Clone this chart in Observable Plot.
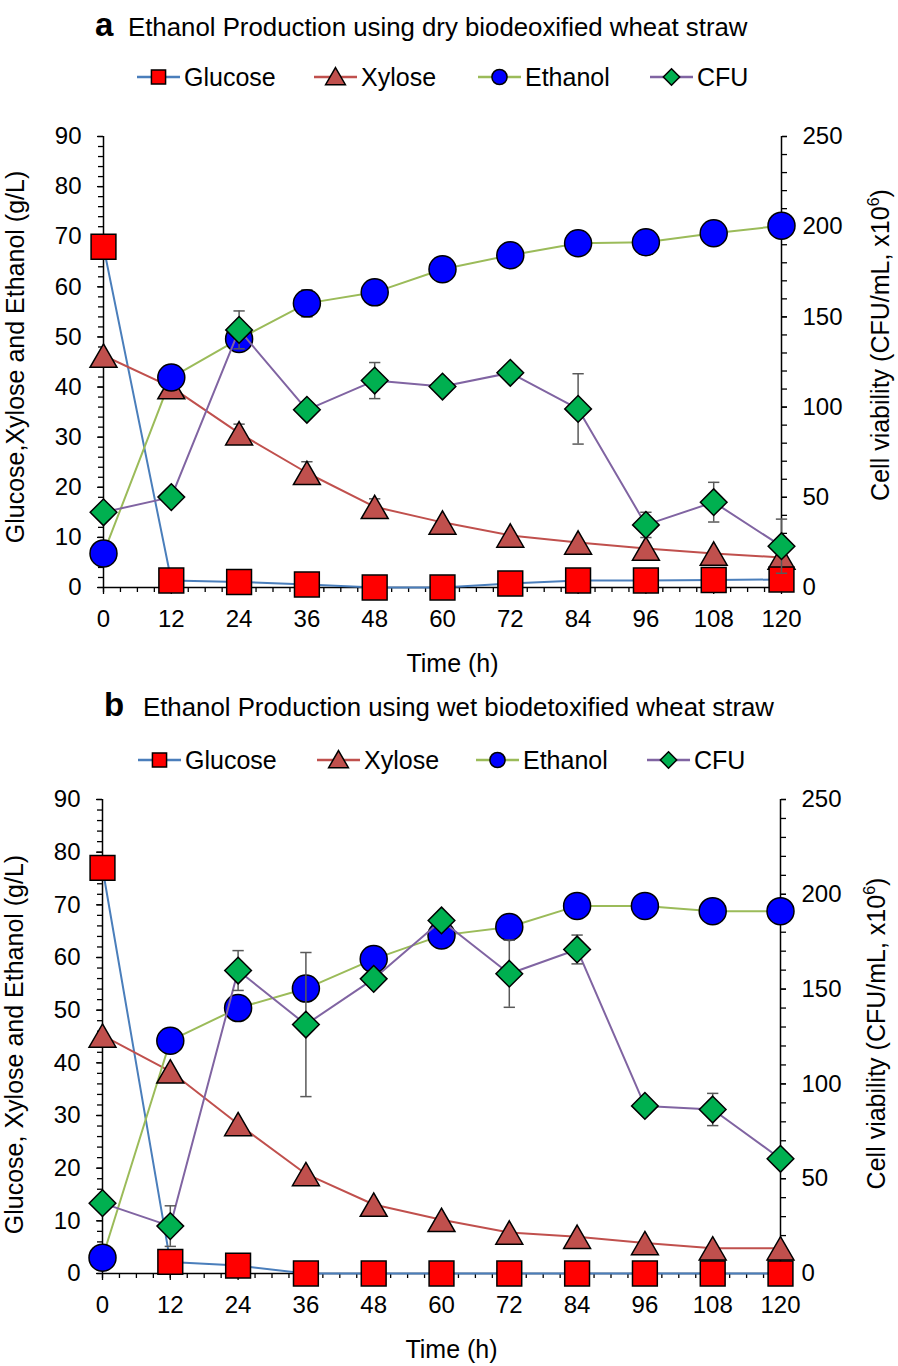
<!DOCTYPE html>
<html><head><meta charset="utf-8">
<script src="https://cdn.jsdelivr.net/npm/d3@7"></script>
<script src="https://cdn.jsdelivr.net/npm/@observablehq/plot@0.6"></script>
<style>
body{margin:0;background:#fff;}
#page{position:relative;width:898px;height:1366px;background:#fff;font-family:"Liberation Sans",Arial,sans-serif;overflow:hidden;}
#page > svg{position:absolute;left:0;}
</style></head><body><div id="page"></div>
<script>
// ---- data ----
const hours = [0, 12, 24, 36, 48, 60, 72, 84, 96, 108, 120];
const xTicks = [0, 12, 24, 36, 48, 60, 72, 84, 96, 108, 120];
const leftTicks = [0, 10, 20, 30, 40, 50, 60, 70, 80, 90];
const rightTicks = [0, 50, 100, 150, 200, 250];
const seriesNames = ["Glucose", "Xylose", "Ethanol", "CFU"];

// Panel a: dry biodeoxified wheat straw
const glucoseA = [68.0, 1.4, 1.1, 0.6, 0.0, 0.0, 0.8, 1.4, 1.4, 1.5, 1.6];
const xyloseA  = [46.3, 40.0, 30.8, 22.9, 16.1, 13.0, 10.4, 9.0, 7.8, 6.8, 6.0];
const xyloseErrA = [0, 0, 1.8, 2.2, 1.6, 0, 0, 0, 0, 0, 0];
const ethanolA = [6.8, 41.9, 49.6, 56.7, 58.9, 63.5, 66.3, 68.7, 68.9, 70.7, 72.2];
const ethanolErrA = [0, 0, 0, 2.7, 0, 0, 0, 0, 0, 0, 0];
const cfuA     = [41.7, 50.1, 142.8, 98.5, 114.7, 111.4, 119.0, 99.0, 34.7, 47.3, 22.9];
const cfuErrA  = [0, 0, 10.5, 0, 10, 0, 0, 19.5, 7, 11, 15];

// Panel b: wet biodetoxified wheat straw
const glucoseB = [77.0, 2.2, 1.5, 0, 0, 0, 0, 0, 0, 0, 0];
const xyloseB  = [45.2, 38.4, 28.4, 18.9, 13.1, 10.2, 7.8, 7.0, 5.8, 4.8, 4.8];
const xyloseErrB = [0, 0, 0, 0, 0, 0, 0, 0, 0, 0, 0];
const ethanolB = [3.0, 44.2, 50.4, 54.1, 59.7, 64.2, 65.8, 69.8, 69.8, 68.8, 68.8];
const ethanolErrB = [0, 0, 0, 0, 0, 0, 0, 0, 0, 0, 0];
const cfuB     = [37.1, 25.0, 159.8, 131.3, 155.4, 186.2, 158.1, 170.9, 88.4, 86.5, 60.5];
const cfuErrB  = [0, 10.7, 10.5, 38, 0, 0, 17.7, 7.6, 0, 8.5, 0];

// ---- styling ----
const FONT = "'Liberation Sans', Arial, sans-serif";
const colors = {
  Glucose: {line: "#4A7EBB", fill: "#FF0000", symbol: "square"},
  Xylose:  {line: "#C0504D", fill: "#C0504D", symbol: "triangle"},
  Ethanol: {line: "#9BBB59", fill: "#0000FF", symbol: "circle"},
  CFU:     {line: "#8064A2", fill: "#00B050", symbol: "diamond2"}
};
const K = 90 / 250; // CFU (right axis) -> left axis units
const page = document.getElementById("page");

function header(top, letter, title, letterX, titleX, titleY, legendY, legendX) {
  const svg = d3.create("svg").attr("width", 898).attr("height", 100)
    .style("top", top + "px").style("font-family", FONT);
  svg.append("text").attr("x", letterX).attr("y", titleY)
    .attr("font-size", 33).attr("font-weight", "bold").text(letter);
  svg.append("text").attr("x", titleX).attr("y", titleY)
    .attr("font-size", 25.8).text(title);
  const symSize = {Glucose: 200, Xylose: 170, Ethanol: 180, CFU: 170};
  const symType = {Glucose: d3.symbolSquare, Xylose: d3.symbolTriangle, Ethanol: d3.symbolCircle, CFU: d3.symbolDiamond2};
  seriesNames.forEach((name, i) => {
    const x0 = legendX[i];
    const g = svg.append("g");
    g.append("line").attr("x1", x0).attr("x2", x0 + 43).attr("y1", legendY).attr("y2", legendY)
      .attr("stroke", colors[name].line).attr("stroke-width", 2.5);
    g.append("path").attr("d", d3.symbol(symType[name], symSize[name])())
      .attr("transform", `translate(${x0 + 21.5},${legendY + (name === "Xylose" ? 2 : 0)})`)
      .attr("fill", colors[name].fill).attr("stroke", "black").attr("stroke-width", 1.5);
    g.append("text").attr("x", x0 + 47).attr("y", legendY).attr("dy", "0.35em")
      .attr("font-size", 25).text(name);
  });
  page.appendChild(svg.node());
}

function panel(top, height, cfg) {
  const data = hours.map((t, i) => ({
    t, g: cfg.glucose[i], x: cfg.xylose[i], xe: cfg.xyloseErr[i],
    e: cfg.ethanol[i], ee: cfg.ethanolErr[i],
    c: cfg.cfu[i] * K, craw: cfg.cfu[i], ce: cfg.cfuErr[i]
  }));
  const cap = 1.0;
  const errMarks = (rows, lo, hi) => [
    Plot.ruleX(rows, {x: "t", y1: lo, y2: hi, stroke: "#595959", strokeWidth: 1.5}),
    Plot.link(rows, {x1: d => d.t - cap, x2: d => d.t + cap, y1: hi, y2: hi, stroke: "#595959", strokeWidth: 1.5}),
    Plot.link(rows, {x1: d => d.t - cap, x2: d => d.t + cap, y1: lo, y2: lo, stroke: "#595959", strokeWidth: 1.5})
  ];
  const dot = (y, name, r, extra = {}) => Plot.dot(data, {
    x: "t", y, symbol: colors[name].symbol, r, fill: colors[name].fill,
    stroke: "black", strokeWidth: 1.5, ...extra
  });
  const line = (y, name) => Plot.line(data, {x: "t", y, stroke: colors[name].line, strokeWidth: 2});
  const svg = Plot.plot({
    width: 898, height,
    marginTop: cfg.mt, marginBottom: 93, marginLeft: cfg.ml, marginRight: cfg.mr,
    x: {domain: [0, 120]},
    y: {domain: [0, 90]},
    style: {fontFamily: FONT, fontSize: "24px", color: "black", background: "white", overflow: "visible"},
    marks: [
      // axes
      Plot.axisX(d3.range(0, 121, 3), {tickSize: 5, tickFormat: () => "", label: null, strokeWidth: 1.3}),
      Plot.axisX(xTicks, {tickSize: 7, tickPadding: 15, label: null, strokeWidth: 1.3, fontSize: 24}),
      Plot.axisY(d3.range(0, 91, 2), {tickSize: 5, tickFormat: () => "", label: null, strokeWidth: 1.3}),
      Plot.axisY(leftTicks, {tickSize: 6, tickPadding: 16, label: null, strokeWidth: 1.3, fontSize: 24}),
      Plot.axisY(d3.range(0, 251, 10).map(v => v * K), {anchor: "right", tickSize: 5, tickFormat: () => "", label: null, strokeWidth: 1.3}),
      Plot.axisY(rightTicks.map(v => v * K), {anchor: "right", tickSize: 5, tickPadding: 16, tickFormat: d => String(Math.round(d / K)), label: null, strokeWidth: 1.3, fontSize: 24}),
      Plot.ruleY([0], {stroke: "black", strokeWidth: 1.5}),
      Plot.ruleX([0, 120], {stroke: "black", strokeWidth: 1.5}),
      // axis titles
      Plot.text([cfg.leftLabel], {text: d => d, frameAnchor: "left", textAnchor: "middle", lineAnchor: "middle", dx: cfg.leftDx, dy: cfg.leftDy, rotate: -90, fontSize: 25}),
      Plot.text(["Cell viability (CFU/mL, x10^6)"], {text: d => d, frameAnchor: "right", textAnchor: "middle", lineAnchor: "middle", dx: cfg.rightDx, dy: cfg.rightDy, rotate: -90, fontSize: 25}),
      Plot.text(["Time (h)"], {text: d => d, frameAnchor: "bottom", textAnchor: "middle", lineAnchor: "middle", dx: 10, dy: 76, fontSize: 25}),
      // primary series
      line("g", "Glucose"),
      line("x", "Xylose"),
      line("e", "Ethanol"),
      ...errMarks(data.filter(d => d.xe > 0), d => d.x - d.xe, d => d.x + d.xe),
      ...errMarks(data.filter(d => d.ee > 0), d => d.e - d.ee, d => d.e + d.ee),
      dot("x", "Xylose", 10, {dy: 4}),
      dot("g", "Glucose", 14),
      dot("e", "Ethanol", 13.5),
      // secondary series (CFU, right axis)
      line("c", "CFU"),
      ...errMarks(data.filter(d => d.ce > 0), d => (d.craw - d.ce) * K, d => (d.craw + d.ce) * K),
      dot("c", "CFU", 12)
    ]
  });
  svg.style.top = top + "px";
  // superscript for x10^6
  d3.select(svg).selectAll("text").filter(function () {
    return this.textContent === "Cell viability (CFU/mL, x10^6)";
  }).each(function () {
    const t = d3.select(this);
    t.text("Cell viability (CFU/mL, x10");
    t.append("tspan").attr("font-size", 16).attr("dy", "-0.6em").text("6");
    t.append("tspan").attr("dy", "0.4em").text(")");
  });
  page.appendChild(svg);
}

header(0, "a", "Ethanol Production using dry biodeoxified wheat straw", 95, 128, 36, 77, [137, 314, 478, 650]);
panel(100, 580, {
  glucose: glucoseA, xylose: xyloseA, xyloseErr: xyloseErrA, ethanol: ethanolA, ethanolErr: ethanolErrA,
  cfu: cfuA, cfuErr: cfuErrA, mt: 36, ml: 103, mr: 117,
  leftLabel: "Glucose,Xylose and Ethanol (g/L)", leftDx: -88, leftDy: -5, rightDx: 99, rightDy: -17
});
header(680, "b", "Ethanol Production using wet biodetoxified wheat straw", 104, 143, 36, 80, [138, 317, 476, 647]);
panel(780, 586, {
  glucose: glucoseB, xylose: xyloseB, xyloseErr: xyloseErrB, ethanol: ethanolB, ethanolErr: ethanolErrB,
  cfu: cfuB, cfuErr: cfuErrB, mt: 19, ml: 102, mr: 118,
  leftLabel: "Glucose, Xylose and Ethanol (g/L)", leftDx: -88, leftDy: 8, rightDx: 96, rightDy: -3
});
</script></body></html>
